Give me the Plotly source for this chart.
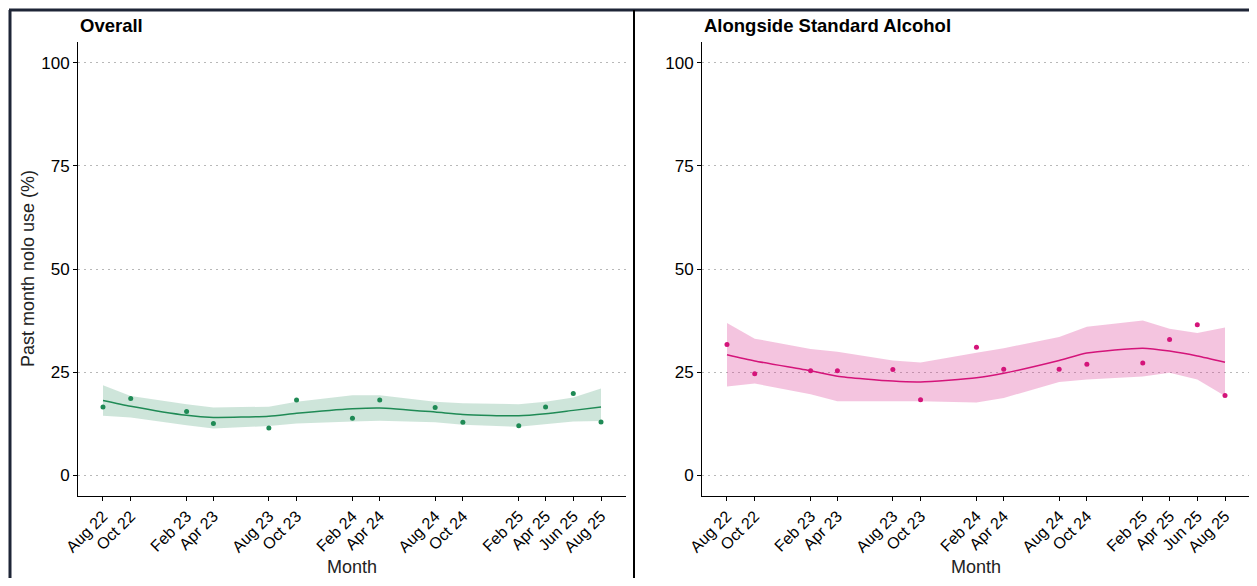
import plotly.graph_objects as go

# Browser body margin (8px) is compensated for: figure is placed at (8, 8)
OFF = 8
FW, FH = 1249, 570

months = ["2022-08-01", "2022-10-01", "2023-02-01", "2023-04-01", "2023-08-01", "2023-10-01",
          "2024-02-01", "2024-04-01", "2024-08-01", "2024-10-01", "2025-02-01", "2025-04-01",
          "2025-06-01", "2025-08-01"]
tick_labels = ["Aug 22", "Oct 22", "Feb 23", "Apr 23", "Aug 23", "Oct 23", "Feb 24", "Apr 24",
               "Aug 24", "Oct 24", "Feb 25", "Apr 25", "Jun 25", "Aug 25"]

overall_points = [16.5, 18.6, 15.4, 12.5, 11.4, 18.2, 13.8, 18.2, 16.4, 12.8, 12.0, 16.5, 19.8, 12.9]
overall_fit = [18.1, 16.7, 14.5, 14.0, 14.3, 15.0, 16.1, 16.3, 15.3, 14.7, 14.4, 14.9, 15.7, 16.5]
overall_upper = [21.8, 19.2, 17.2, 16.4, 16.6, 17.8, 19.4, 19.4, 17.8, 17.4, 17.2, 17.8, 18.8, 21.0]
overall_lower = [14.4, 14.0, 12.1, 11.3, 11.9, 12.5, 13.0, 13.2, 12.8, 12.2, 11.7, 12.3, 13.0, 13.1]

along_points = [31.7, 24.6, 25.3, 25.3, 25.6, 18.3, 31.0, 25.7, 25.7, 26.9, 27.2, 32.9, 36.5, 19.3]
along_fit = [29.2, 27.7, 25.3, 24.0, 22.8, 22.6, 23.6, 24.7, 27.8, 29.6, 30.8, 30.1, 28.9, 27.4]
along_upper = [36.9, 33.1, 30.6, 29.9, 27.8, 27.3, 29.7, 30.8, 33.5, 36.0, 37.5, 35.5, 34.5, 35.8]
along_lower = [21.5, 22.2, 19.6, 17.9, 17.9, 17.9, 17.6, 18.7, 22.6, 23.2, 23.9, 24.8, 23.2, 19.2]

y_ticks = [0, 25, 50, 75, 100]

GREEN = "#1f8a55"
GREEN_BAND = "rgba(31,138,85,0.22)"
PINK = "#d4147a"
PINK_BAND = "rgba(220,60,150,0.30)"


def px(sx):
    return (sx - OFF) / FW


def py(sy):
    return 1 - (sy - OFF) / FH


fig = go.Figure()


def add_panel(xa, ya, pts, fit, up, lo, col, band):
    fig.add_trace(go.Scatter(x=months, y=up, mode="lines", line=dict(width=0, color=band),
                             xaxis=xa, yaxis=ya, showlegend=False, hoverinfo="skip"))
    fig.add_trace(go.Scatter(x=months, y=lo, mode="lines", line=dict(width=0, color=band),
                             fill="tonexty", fillcolor=band,
                             xaxis=xa, yaxis=ya, showlegend=False, hoverinfo="skip"))
    fig.add_trace(go.Scatter(x=months, y=fit, mode="lines",
                             line=dict(width=1.5, color=col, shape="spline", smoothing=0.6),
                             xaxis=xa, yaxis=ya, showlegend=False))
    fig.add_trace(go.Scatter(x=months, y=pts, mode="markers", marker=dict(size=5, color=col),
                             xaxis=xa, yaxis=ya, showlegend=False))


add_panel("x", "y", overall_points, overall_fit, overall_upper, overall_lower, GREEN, GREEN_BAND)
add_panel("x2", "y2", along_points, along_fit, along_upper, along_lower, PINK, PINK_BAND)

font_family = "Liberation Sans, Arial, sans-serif"
xr = ["2022-06-07", "2025-09-25"]
ydom = [py(495.7), py(42.3)]

common_x = dict(type="date", range=xr, tickmode="array", tickvals=months, ticktext=tick_labels,
                tickangle=-45, ticks="outside", ticklen=4, tickcolor="black", tickwidth=1,
                showline=True, linecolor="black", linewidth=1, showgrid=False, zeroline=False,
                automargin=False,
                tickfont=dict(size=16, color="black", family=font_family))
common_y = dict(range=[-5, 105], tickmode="array", tickvals=y_ticks, ticks="outside", ticklen=4,
                tickcolor="black", tickwidth=1, showline=True, linecolor="black", linewidth=1,
                showgrid=True, gridcolor="#b8b8b8", griddash="1.5px,4.5px", gridwidth=1, zeroline=False,
                automargin=False,
                tickfont=dict(size=17, color="black", family=font_family))

title_font = dict(size=18.5, color="black", family=font_family)
axis_title_font = dict(size=18, color="#222", family=font_family)

fig.update_layout(
    width=FW, height=FH, margin=dict(l=0, r=0, t=0, b=0, autoexpand=False),
    paper_bgcolor="white", plot_bgcolor="white",
    font=dict(family=font_family),
    xaxis=dict(domain=[px(78), px(626)], anchor="y", **common_x),
    yaxis=dict(domain=ydom, anchor="x", **common_y),
    xaxis2=dict(domain=[px(702), px(1250)], anchor="y2", **common_x),
    yaxis2=dict(domain=ydom, anchor="x2", **common_y),
    annotations=[
        dict(text="<b>Overall</b>", x=px(78), y=py(26), xref="paper", yref="paper",
             xanchor="left", yanchor="middle", showarrow=False, font=title_font),
        dict(text="<b>Alongside Standard Alcohol</b>", x=px(702), y=py(26), xref="paper", yref="paper",
             xanchor="left", yanchor="middle", showarrow=False, font=title_font),
        dict(text="Month", x=px(352), y=py(567), xref="paper", yref="paper",
             xanchor="center", yanchor="middle", showarrow=False, font=axis_title_font),
        dict(text="Month", x=px(976), y=py(567), xref="paper", yref="paper",
             xanchor="center", yanchor="middle", showarrow=False, font=axis_title_font),
        dict(text="Past month nolo use (%)", x=px(28), y=py(269), xref="paper", yref="paper",
             xanchor="center", yanchor="middle", textangle=-90, showarrow=False, font=axis_title_font),
    ],
    shapes=[
        dict(type="line", xref="paper", yref="paper", x0=px(9), x1=1, y0=py(10), y1=py(10),
             line=dict(color="#1e2536", width=3)),
        dict(type="line", xref="paper", yref="paper", x0=px(10), x1=px(10), y0=0, y1=py(10),
             line=dict(color="#1e2536", width=3)),
        dict(type="line", xref="paper", yref="paper", x0=px(634), x1=px(634), y0=0, y1=py(10),
             line=dict(color="black", width=2)),
    ],
)

fig.write_html("out.html")
